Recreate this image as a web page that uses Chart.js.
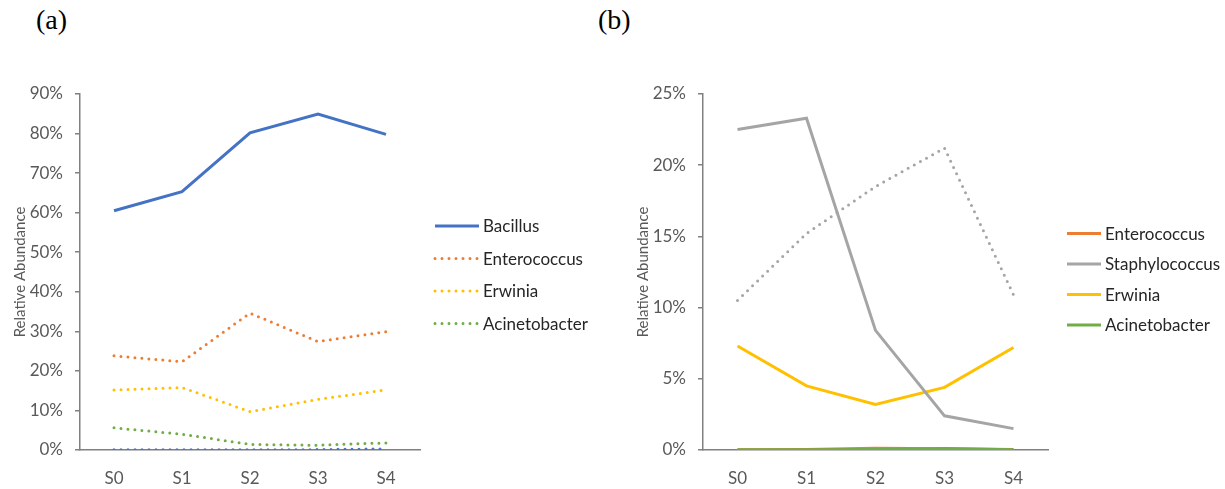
<!DOCTYPE html>
<html>
<head>
<meta charset="utf-8">
<script src="https://cdn.jsdelivr.net/npm/chart.js@4"></script>
<style>
  body { margin: 0; background: #fff; width: 1225px; height: 489px; position: relative; overflow: hidden; }
  canvas { position: absolute; top: 0; }
  #chartA { left: 0; }
  #chartB { left: 623px; }
  .panel { position: absolute; top: 4px; font-family: "Liberation Serif", serif; font-size: 28px; color: #000; }
</style>
</head>
<body>
<div class="panel" style="left:36px">(a)</div>
<div class="panel" style="left:598px">(b)</div>
<canvas id="chartA" width="600" height="489"></canvas>
<canvas id="chartB" width="602" height="489"></canvas>
<script>
// ------- data
const categories = ['S0', 'S1', 'S2', 'S3', 'S4'];

// (a)
const bacillusA = [60.5, 65.3, 80.2, 84.9, 79.8];
const enterococcusA = [23.8, 22.3, 34.6, 27.4, 29.9];
const erwiniaA = [15.2, 15.8, 9.7, 12.8, 15.2];
const acinetobacterA = [5.6, 4.0, 1.4, 1.2, 1.8];
const bacillusLowA = [0.05, 0.05, 0.05, 0.1, 0.3];
const ticksA = [0, 10, 20, 30, 40, 50, 60, 70, 80, 90];

// (b)
const enterococcusB = [0.02, 0.03, 0.12, 0.08, 0.03];
const staphylococcusB = [22.5, 23.3, 8.4, 2.4, 1.5];
const staphylococcusDotB = [10.5, 15.2, 18.5, 21.2, 10.9];
const erwiniaB = [7.3, 4.5, 3.2, 4.4, 7.2];
const acinetobacterB = [0.02, 0.02, 0.04, 0.1, 0.02];
const ticksB = [0, 5, 10, 15, 20, 25];

const blue = '#4472C4';
const orange = '#ED7D31';
const grey = '#A5A5A5';
const yellow = '#FFC000';
const green = '#70AD47';
const axisGrey = '#808080';
const textGrey = '#595959';
const FONT = 'Lato, "Open Sans", sans-serif';

Chart.defaults.font.family = FONT;
Chart.defaults.color = textGrey;

// draws a legend at a fixed place right of the plot, using each dataset's own style
const lineLegend = {
    id: 'lineLegend',
    afterDraw(chart, args, opts) {
        const ctx = chart.ctx;
        let y = opts.y;
        ctx.save();
        chart.data.datasets.forEach(ds => {
            if (!ds.inLegend) return;
            ctx.strokeStyle = ds.borderColor;
            ctx.lineWidth = ds.borderWidth;
            ctx.lineCap = ds.borderCapStyle || 'butt';
            ctx.setLineDash(ds.borderDash || []);
            ctx.beginPath();
            ctx.moveTo(opts.x, y);
            ctx.lineTo(opts.x + opts.sample, y);
            ctx.stroke();
            ctx.setLineDash([]);
            ctx.fillStyle = '#262626';
            ctx.font = opts.fontSize + 'px ' + FONT;
            ctx.textBaseline = 'middle';
            ctx.textAlign = 'left';
            ctx.fillText(ds.label, opts.x + opts.sample + 4, y + 1);
            y += opts.gap;
        });
        ctx.restore();
    }
};

function solid(label, data, color, order) {
    return { label: label, data: data, borderColor: color, backgroundColor: color,
        borderWidth: 3, pointRadius: 0, tension: 0, order: order, inLegend: true };
}
function dotted(label, data, color, order, legend) {
    return { label: label, data: data, borderColor: color, backgroundColor: color,
        borderWidth: 3, borderDash: [0, 7], borderCapStyle: 'round',
        pointRadius: 0, tension: 0, order: order, inLegend: legend };
}

function makeScales(maxY, step) {
    return {
        x: {
            offset: true,
            grid: { display: false, drawTicks: false },
            border: { display: true, color: axisGrey, width: 1.5 },
            ticks: { padding: 18, font: { size: 17 }, color: textGrey },
            afterFit: (scale) => { scale.height = 39; }
        },
        y: {
            min: 0, max: maxY,
            grid: { drawOnChartArea: false, drawTicks: true, tickLength: 5, color: axisGrey, lineWidth: 1.5 },
            border: { display: true, color: axisGrey, width: 1.5 },
            ticks: { stepSize: step, padding: 12, font: { size: 17 }, color: textGrey,
                callback: (v) => v + '%' },
            title: { display: true, text: 'Relative Abundance', color: textGrey,
                font: { size: 15 }, padding: { top: 11, bottom: 0 } },
            afterFit: (scale) => { scale.width = 80; }
        }
    };
}

var can1 = document.getElementById('chartA').getContext('2d');
var chartA = new Chart(can1, {
    type: 'line',
    data: {
        labels: categories,
        datasets: [
            solid('Bacillus', bacillusA, blue, 1),
            dotted('Enterococcus', enterococcusA, orange, 2, true),
            dotted('Erwinia', erwiniaA, yellow, 3, true),
            dotted('Acinetobacter', acinetobacterA, green, 4, true),
            dotted('Bacillus (low)', bacillusLowA, blue, 5, false)
        ]
    },
    options: {
        responsive: false,
        animation: false,
        layout: { padding: { top: 94, right: 180, bottom: 0, left: 0 } },
        scales: makeScales(ticksA[ticksA.length - 1], ticksA[1] - ticksA[0]),
        plugins: {
            legend: { display: false },
            tooltip: { enabled: false },
            lineLegend: { x: 435, y: 226, gap: 32.5, sample: 44, fontSize: 17 }
        }
    },
    plugins: [lineLegend]
});

var can2 = document.getElementById('chartB').getContext('2d');
var chartB = new Chart(can2, {
    type: 'line',
    data: {
        labels: categories,
        datasets: [
            solid('Enterococcus', enterococcusB, orange, 5),
            solid('Staphylococcus', staphylococcusB, grey, 2),
            solid('Erwinia', erwiniaB, yellow, 3),
            solid('Acinetobacter', acinetobacterB, green, 1),
            dotted('Staphylococcus (dotted)', staphylococcusDotB, grey, 4, false)
        ]
    },
    options: {
        responsive: false,
        animation: false,
        layout: { padding: { top: 94, right: 177, bottom: 0, left: 0 } },
        scales: makeScales(ticksB[ticksB.length - 1], ticksB[1] - ticksB[0]),
        plugins: {
            legend: { display: false },
            tooltip: { enabled: false },
            lineLegend: { x: 444, y: 233.5, gap: 30.5, sample: 34, fontSize: 17 }
        }
    },
    plugins: [lineLegend]
});
</script>
</body>
</html>
